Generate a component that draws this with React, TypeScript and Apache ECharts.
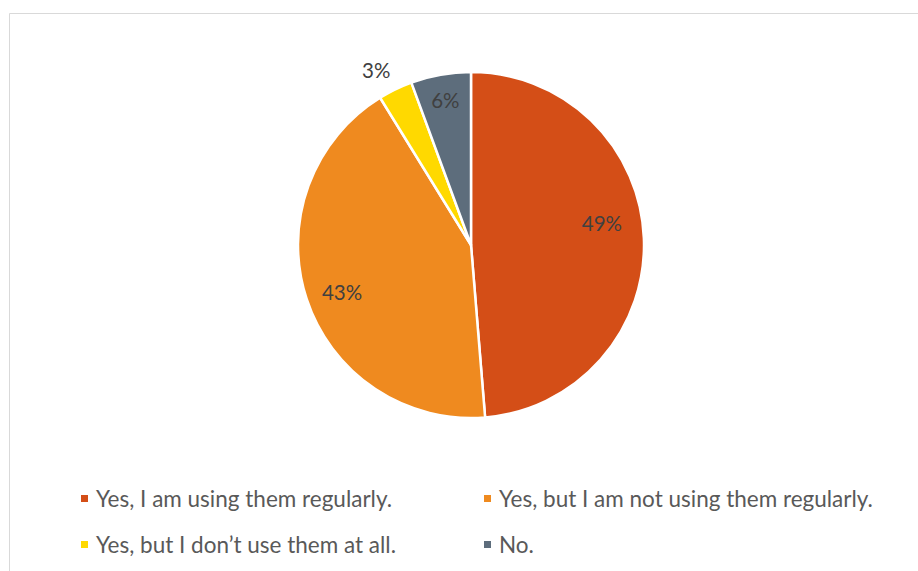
import React, { useEffect, useRef } from "react";
import * as echarts from "echarts";

const categories = [
  "Yes, I am using them regularly.",
  "Yes, but I am not using them regularly.",
  "Yes, but I don’t use them at all.",
  "No.",
];
const shares = [48.7, 42.5, 3.2, 5.6];
const colors = ["#D44E17", "#EF8A1F", "#FFD900", "#5D6D7C"];
// label placement styling (not data)
const labelPositions = ["inside", "inside", "outside", "inside"];
const labelOffsets = [[-10, -16], [5, 3], [4, -1], [-1, -6]];

const FONT = "Lato, 'Noto Sans', sans-serif";

export default function App() {
  const ref = useRef<HTMLDivElement>(null);
  useEffect(() => {
    if (!ref.current) return;
    const chart = echarts.init(ref.current, undefined, { renderer: "svg" });
    const cx = 471;
    const cy = 245;
    const R = 173;
    const legendPos = [
      { left: 79, top: 487 },
      { left: 482, top: 487 },
      { left: 79, top: 533 },
      { left: 482, top: 533 },
    ];
    chart.setOption({
      animation: false,
      backgroundColor: "#ffffff",
      graphic: [
        {
          type: "rect",
          shape: { x: 9.5, y: 13.5, width: 1000, height: 1000 },
          style: { fill: "none", stroke: "#d9d9d9", lineWidth: 1 },
          silent: true,
        },
      ],
      legend: categories.map((name, i) => ({
        data: [name],
        left: legendPos[i].left,
        top: legendPos[i].top,
        icon: "rect",
        itemWidth: 9,
        itemHeight: 9,
        padding: 0,
        selectedMode: false,
        textStyle: {
          fontFamily: FONT,
          fontSize: 22.5,
          color: "#595959",
          padding: [0, 0, 0, 2],
        },
      })),
      series: [
        {
          type: "pie",
          center: [cx, cy],
          radius: [0, R],
          startAngle: 90,
          clockwise: true,
          label: { show: false },
          labelLine: { show: false },
          itemStyle: { borderColor: "#ffffff", borderWidth: 2.5 },
          emphasis: { disabled: true },
          data: categories.map((name, i) => ({
            name,
            value: shares[i],
            itemStyle: { color: colors[i] },
          })),
        },
        {
          type: "pie",
          center: [cx, cy],
          radius: [103, R],
          startAngle: 90,
          clockwise: true,
          silent: true,
          emphasis: { disabled: true },
          itemStyle: { color: "rgba(0,0,0,0)", borderWidth: 0 },
          labelLine: { show: false, length: 20.5, length2: 0 },
          label: {
            show: true,
            fontFamily: FONT,
            fontSize: 20.5,
            color: "#404040",
            distanceToLabelLine: 0,
            formatter: (p: any) => Math.round(p.percent) + "%",
          },
          data: categories.map((name, i) => ({
            name,
            value: shares[i],
            label: {
              position: labelPositions[i],
              offset: labelOffsets[i],
            },
          })),
        },
      ],
    });
    return () => chart.dispose();
  }, []);
  return (
    <div
      ref={ref}
      style={{ position: "absolute", left: 0, top: 0, width: 918, height: 571 }}
    />
  );
}
